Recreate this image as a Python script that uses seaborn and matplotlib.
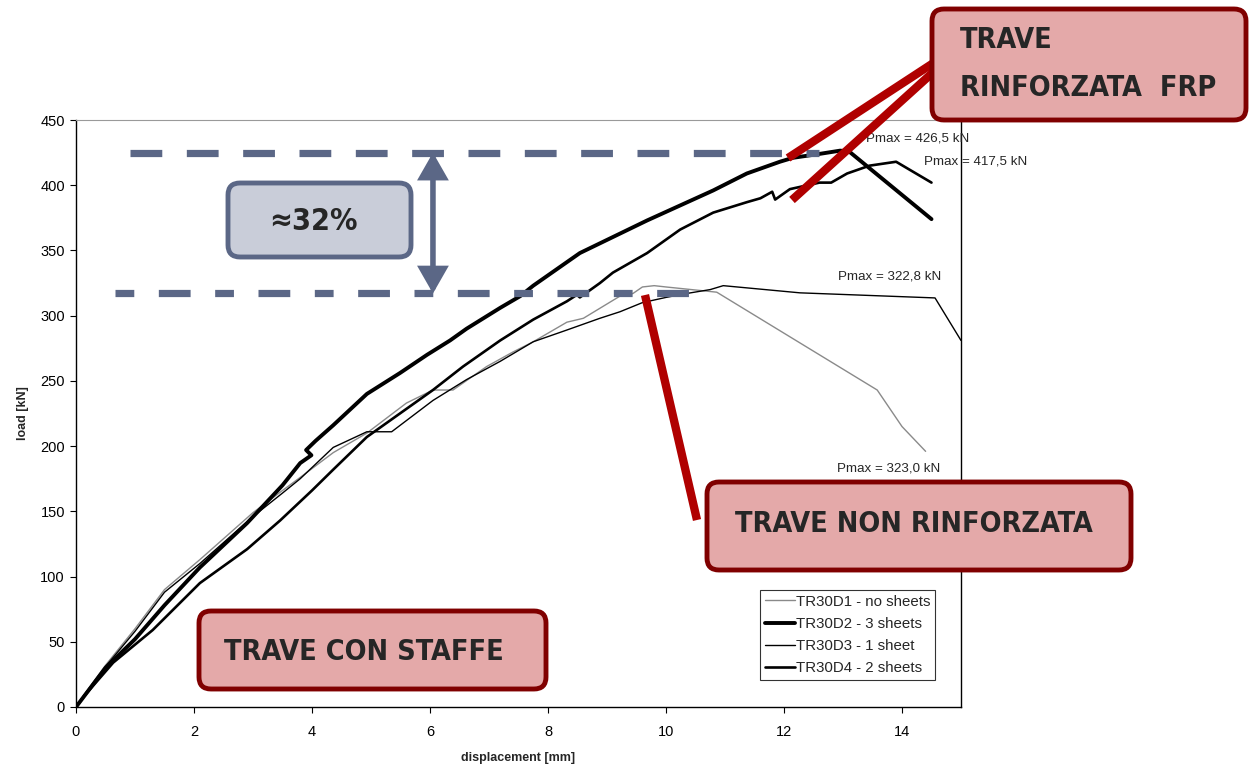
import numpy as np
import pandas as pd
import matplotlib
matplotlib.use("Agg")
import matplotlib.pyplot as plt
import seaborn as sns
from matplotlib.patches import FancyBboxPatch, FancyArrowPatch
from matplotlib.lines import Line2D

# ---------------- data ----------------
d1_x = [0, 0.15, 0.5, 1.0, 1.5, 2.1, 2.6, 3.0, 3.5, 3.8, 4.36, 4.93, 5.6, 6.05, 6.39, 6.96, 7.4, 7.75,
        8.32, 8.6, 9.22, 9.44, 9.6, 9.8, 10.0, 10.86, 13.58, 14.0, 14.4]
d1_y = [0, 10, 32, 60, 90, 113, 133, 149, 166, 176, 195, 210, 233, 243, 243, 261, 272, 280,
        295, 298, 315, 317, 322, 323, 322, 318, 243, 215, 196]

d2_x = [0, 0.15, 0.5, 1.0, 1.5, 2.1, 2.9, 3.5, 3.8, 3.99, 3.9, 4.06, 4.36, 4.93, 5.49, 5.95, 6.34, 6.62,
        7.19, 7.53, 7.75, 8.54, 9.68, 10.8, 11.37, 11.93, 12.15, 12.6, 12.95, 13.1, 14.5]
d2_y = [0, 9, 30, 52, 78, 107, 141, 170, 187, 193, 197, 204, 216, 240, 256, 270, 281, 290,
        306, 315, 323, 348, 373, 396, 409, 418, 421, 424, 426.5, 426, 374]

d3_x = [0, 0.15, 0.5, 1.0, 1.5, 2.1, 2.6, 3.0, 3.5, 3.8, 4.36, 4.93, 5.35, 6.05, 6.62, 7.19, 7.75, 8.32,
        8.88, 9.22, 9.6, 10.0, 10.35, 10.75, 10.97, 12.27, 14.56, 15.0]
d3_y = [0, 10, 31, 58, 88, 110, 130, 146, 164, 175, 199, 211, 211, 235, 251, 265, 280, 289,
        298, 303, 310, 314, 317, 320, 323, 317.5, 313.6, 281]

d4_x = [0, 0.15, 0.63, 1.3, 2.1, 2.9, 3.46, 4.0, 4.36, 4.93, 5.49, 6.05, 6.56, 7.19, 7.75, 8.32, 8.49,
        8.54, 8.88, 9.1, 9.68, 10.24, 10.8, 11.37, 11.6, 11.8, 11.85, 12.1, 12.6, 12.8, 13.07, 13.45,
        13.9, 14.5]
d4_y = [0, 9, 34, 59, 95, 121, 143, 166, 182, 207, 225, 243, 261, 281, 297, 311, 316,
        314, 325, 333, 348, 366, 379, 387, 390, 395, 389, 397, 402, 402, 409, 415,
        418, 402]

series_labels = ["TR30D1 - no sheets", "TR30D2 - 3 sheets", "TR30D3 - 1 sheet", "TR30D4 - 2 sheets"]
pmax_labels = ["Pmax = 426,5 kN", "Pmax = 417,5 kN", "Pmax = 322,8 kN", "Pmax = 323,0 kN"]
x_ticks = [0, 2, 4, 6, 8, 10, 12, 14]
y_ticks = [0, 50, 100, 150, 200, 250, 300, 350, 400, 450]

# ---------------- style ----------------
sns.set_style("white")
plt.rcParams['font.family'] = ['Liberation Sans', 'DejaVu Sans']

W, H = 1249, 767
fig = plt.figure(figsize=(W / 100, H / 100), dpi=100)
ax = fig.add_axes([76 / W, 1 - 707 / H, (961 - 76) / W, (707 - 120) / H])

styles = [
    dict(color="#8a8a8a", linewidth=1.0),
    dict(color="black", linewidth=2.8),
    dict(color="black", linewidth=1.0),
    dict(color="black", linewidth=1.9),
]
for (xs, ys), lab, st in zip([(d1_x, d1_y), (d2_x, d2_y), (d3_x, d3_y), (d4_x, d4_y)], series_labels, styles):
    df = pd.DataFrame({"x": xs, "y": ys})
    sns.lineplot(data=df, x="x", y="y", sort=False, estimator=None, ax=ax, label=lab, **st)

ax.set_xlim(0, 15)
ax.set_ylim(0, 450)
ax.set_xticks(x_ticks)
ax.set_yticks(y_ticks)
ax.tick_params(axis="both", direction="out", length=4, width=0.8, labelsize=10.5, colors="black",
               bottom=True, left=True, top=False, right=False)
ax.tick_params(axis="x", pad=9)
ax.tick_params(axis="y", pad=4)
ax.set_xlabel("displacement [mm]", fontsize=9, fontweight="bold", labelpad=9)
ax.set_ylabel("load [kN]", fontsize=9, fontweight="bold", labelpad=8)
for s in ["left", "bottom", "right"]:
    ax.spines[s].set_color("black")
    ax.spines[s].set_linewidth(1.0)
ax.spines["top"].set_color("#9a9a9a")
ax.spines["top"].set_linewidth(0.8)

leg = ax.legend(loc="upper right", bbox_to_anchor=((935 - 76) / 885, (707 - 590) / 587),
                frameon=True, fancybox=False, fontsize=10.8, handlelength=2.0, handletextpad=0.1,
                labelspacing=0.55, borderpad=0.3, borderaxespad=0)
leg.get_frame().set_edgecolor("black")
leg.get_frame().set_linewidth(0.8)

# Pmax labels
pm_pos = [(13.39, 436), (14.37, 418), (12.92, 330), (12.9, 182.5)]
for (px, py), t in zip(pm_pos, pmax_labels):
    ax.text(px, py, t, fontsize=9.6, ha="left", va="center", clip_on=False, zorder=6)

# dashed reference lines and double arrow
slate = "#5b6786"
ax.plot([0.92, 12.6], [425, 425], color=slate, lw=5.2, dashes=(4.4, 3.4), dash_capstyle="butt", zorder=5)
ax.plot([0.66, 10.4], [317, 317], color=slate, lw=5.2, dashes=(2.6, 3.4, 4.4, 3.4), dash_capstyle="butt", zorder=5)
arr = FancyArrowPatch((6.05, 317), (6.05, 425), arrowstyle="<|-|>,head_length=1.4,head_width=0.8",
                      mutation_scale=10, color=slate, lw=4.0, shrinkA=0, shrinkB=0, zorder=5,
                      joinstyle="miter")
ax.add_patch(arr)

# ---------------- figure-level annotations (pixel based) ----------------
tr = fig.dpi_scale_trans
def P(x, y):
    return (x / 100, (H - y) / 100)

red = "#b00000"
for (x0, y0), (x1, y1) in [((938, 60), (788, 158)), ((940, 66), (792, 200)), ((645, 295), (697, 520))]:
    fig.add_artist(Line2D([P(x0, y0)[0], P(x1, y1)[0]], [P(x0, y0)[1], P(x1, y1)[1]],
                          transform=tr, color=red, lw=6, solid_capstyle="butt", zorder=8))

def box(x0, y0, x1, y1, fc, ec, lw):
    b = FancyBboxPatch(P(x0, y1), (x1 - x0) / 100, (y1 - y0) / 100,
                       boxstyle="round,pad=0,rounding_size=0.12", transform=tr,
                       fc=fc, ec=ec, lw=lw, zorder=9)
    fig.add_artist(b)

pink, dred = "#e4a9a9", "#800000"
txtc = "#262626"
bigfont = dict(family=["DejaVu Sans Condensed", "Liberation Sans Narrow", "DejaVu Sans"],
               fontstretch="condensed", fontweight="bold", color=txtc, zorder=10)

box(228, 183, 411, 257, "#c9cdd9", slate, 3.5)
box(932, 9, 1246, 120, pink, dred, 3.5)
box(707, 482, 1131, 570, pink, dred, 3.5)
box(199, 611, 546, 689, pink, dred, 3.5)

# (text, target width px)
big_texts = []
big_texts.append((fig.text(313 / W, 1 - 221 / H, "≈32%", ha="center", va="center", fontsize=26, **bigfont), 89))
big_texts.append((fig.text(960 / W, 1 - 40 / H, "TRAVE", ha="left", va="center", fontsize=28, **bigfont), 95))
big_texts.append((fig.text(960 / W, 1 - 88 / H, "RINFORZATA  FRP", ha="left", va="center", fontsize=28, **bigfont), 257))
big_texts.append((fig.text(914 / W, 1 - 524 / H, "TRAVE NON RINFORZATA", ha="center", va="center", fontsize=28, **bigfont), 358))
big_texts.append((fig.text(364 / W, 1 - 652 / H, "TRAVE CON STAFFE", ha="center", va="center", fontsize=28, **bigfont), 280))

renderer = fig.canvas.get_renderer()
sizes = []
for t, target in big_texts:
    bb = t.get_window_extent(renderer)
    sizes.append(t.get_fontsize() * target / bb.width)
common = min(sizes[1], sizes[2])
sizes[1] = sizes[2] = common
for (t, target), s in zip(big_texts, sizes):
    t.set_fontsize(s)

fig.savefig("out.png", dpi=100)
